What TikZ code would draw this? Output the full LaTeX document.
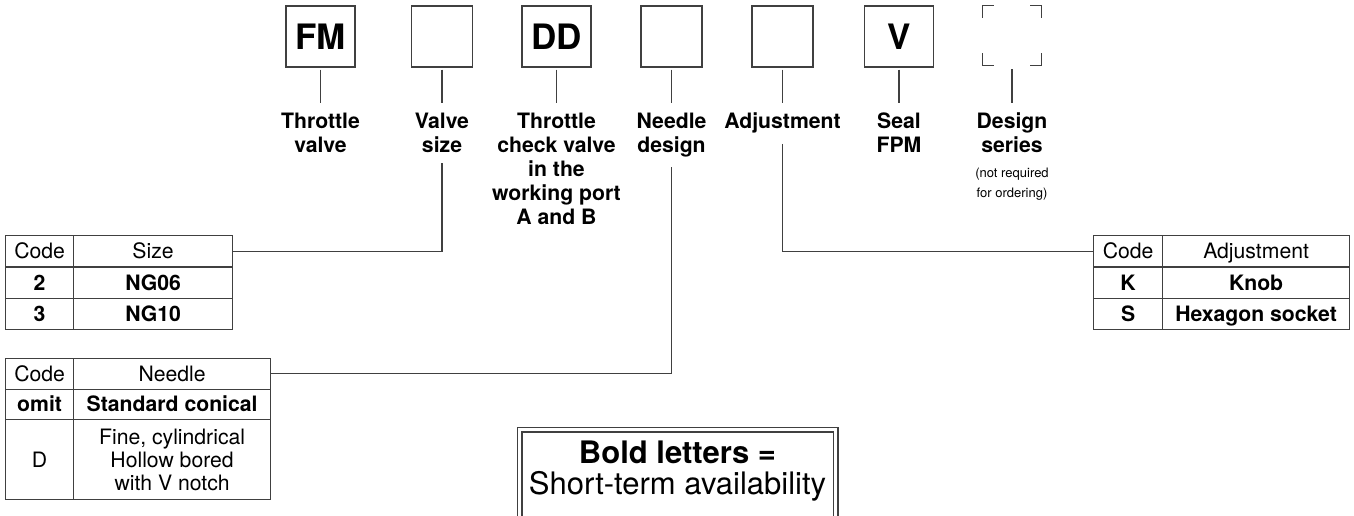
\documentclass[tikz,border=0pt]{standalone}
\usepackage{fontspec}
\setmainfont{TeX Gyre Heros}
\usepackage{tikz}
\usetikzlibrary{positioning}

\begin{document}
\begin{tikzpicture}[
    x=1pt, y=-1pt,
    lw/.style={line width=1.2pt, draw=black!75},
    code/.style={lw, draw, minimum width=69pt, minimum height=61pt, inner sep=0pt,
        font=\fontsize{35}{35}\selectfont\bfseries},
    blank/.style={code, minimum width=61pt},
    desc/.style={anchor=north, align=center, inner xsep=0pt, inner ysep=10pt,
        font=\fontsize{21.2}{24}\selectfont\bfseries},
    remark/.style={anchor=north, align=center, inner sep=0pt,
        font=\fontsize{13}{20}\selectfont},
    cellbase/.style={lw, draw, anchor=north west, inner sep=0pt,
        font=\fontsize{21.2}{24}\selectfont},
    cell/.style={cellbase, minimum height=31.3pt, text height=15pt, text depth=0pt},
    bcell/.style={cell, font=\fontsize{21.2}{24}\selectfont\bfseries},
    conn/.style={lw},
]
\useasboundingbox (0,0) rectangle (1354,516);

% --- Code boxes ---
\node[code]  (fm)   at (320.5, 36.5) {FM};
\node[blank] (vs)   at (442, 36.5) {};
\node[code]  (dd)   at (556.5, 36.5) {DD};
\node[blank] (nd)   at (671.5, 36.5) {};
\node[blank] (adj)  at (782.5, 36.5) {};
\node[code]  (seal) at (899, 36.5) {V};
\node[minimum width=58pt, minimum height=59pt, inner sep=0pt] (dsn) at (1012, 35.5) {};

% --- Corner marks of the design series box ---
\foreach \a/\sx/\sy in {north west/1/-1, north east/-1/-1, south west/1/1, south east/-1/1} {
    \draw[lw] ([yshift=\sy*12pt]dsn.\a) -- (dsn.\a) -- ([xshift=\sx*11pt]dsn.\a);
}

% --- Descriptions ---
\node[desc] (fm-t)   at (320.5, 103) {Throttle\\valve};
\node[desc] (vs-t)   at (442, 103)   {Valve\\size};
\node[desc] (dd-t)   at (556.5, 103) {Throttle\\check valve\\in the\\working port\\A and B};
\node[desc] (nd-t)   at (671.5, 103) {Needle\\design};
\node[desc] (adj-t)  at (782.5, 103) {Adjustment};
\node[desc] (seal-t) at (899, 103)   {Seal\\FPM};
\node[desc] (dsn-t)  at (1012, 103)  {Design\\series};
\node[remark, below=4pt of dsn-t] (dsn-r) {(not required\\for ordering)};

% --- Box to description leaders ---
\foreach \b in {fm, vs, dd, nd, adj, seal} {
    \draw[conn, shorten <=2pt] (\b) -- (\b-t);
}
\draw[conn, shorten <=4pt] (dsn) -- (dsn-t);

% --- Size table ---
\node[cell, minimum width=68pt]  (size-c) at (5, 235)  {Code};
\node[cell, minimum width=159pt] (size-h) at (73, 235) {Size};
\foreach \c/\v [count=\i] in {2/NG06, 3/NG10} {
    \node[bcell, minimum width=68pt]  (size-c\i) at (5, 235+\i*31.3)  {\c};
    \node[bcell, minimum width=159pt] (size-v\i) at (73, 235+\i*31.3) {\v};
}

% --- Needle table ---
\node[cell, minimum width=68pt, minimum height=30.5pt]   (ndl-c)  at (5, 358)    {Code};
\node[cell, minimum width=197pt, minimum height=30.5pt]  (ndl-h)  at (73, 358)   {Needle};
\node[bcell, minimum width=68pt, minimum height=30.5pt]  (ndl-c1) at (5, 388.5)  {omit};
\node[bcell, minimum width=197pt, minimum height=30.5pt] (ndl-v1) at (73, 388.5) {Standard conical};
\node[cellbase, minimum width=68pt, minimum height=80pt] (ndl-c2) at (5, 419)    {D};
\node[cellbase, minimum width=197pt, minimum height=80pt, align=center,
      font=\fontsize{21.2}{23}\selectfont] (ndl-v2) at (73, 419)
      {Fine, cylindrical\\Hollow bored\\with V notch};

% --- Adjustment table ---
\node[cell, minimum width=69pt]  (adj-c) at (1093, 235) {Code};
\node[cell, minimum width=187pt] (adj-h) at (1162, 235) {Adjustment};
\foreach \c/\v [count=\i] in {K/Knob, S/Hexagon socket} {
    \node[bcell, minimum width=69pt]  (adj-c\i) at (1093, 235+\i*31.3) {\c};
    \node[bcell, minimum width=187pt] (adj-v\i) at (1162, 235+\i*31.3) {\v};
}

% --- Leaders to the tables ---
\draw[conn] (vs-t) |- (size-h);
\draw[conn] (nd-t) |- (ndl-h);
\draw[conn] (adj-t) |- (adj-c);

% --- Availability note ---
\draw[lw, double, double distance=3.6pt] (519.5, 516) |- (835.5, 429.5) -- (835.5, 516);
\node[anchor=north, align=center, inner sep=0pt, font=\fontsize{31}{30.5}\selectfont]
    (avail) at (677.5, 441) {{\bfseries Bold letters =}\\Short-term availability};

\end{tikzpicture}
\end{document}
